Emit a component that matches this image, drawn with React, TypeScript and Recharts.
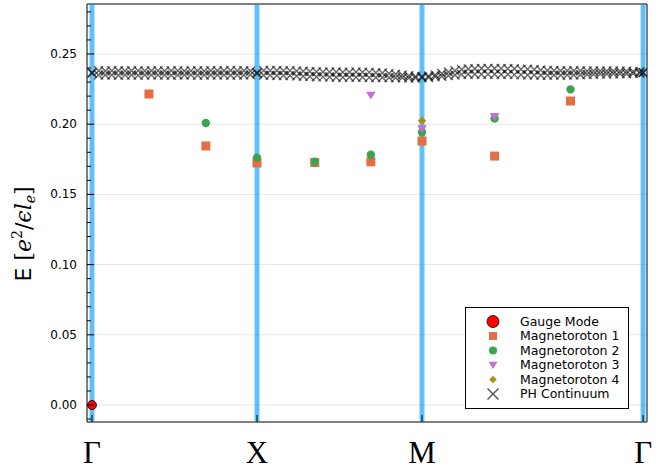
import React from 'react';
import { ScatterChart, Scatter, XAxis, YAxis, CartesianGrid, ReferenceLine, ReferenceArea } from 'recharts';

// high-symmetry path: Γ -> X -> M -> Γ
const kPath = [0, 1, 2, 3.34];
const kLabels = ['Γ', 'X', 'M', 'Γ'];
const eTicks = [-0.01, 0, 0.01, 0.02, 0.03, 0.04, 0.05, 0.06, 0.07, 0.08, 0.09, 0.1, 0.11, 0.12, 0.13, 0.14, 0.15, 0.16, 0.17, 0.18, 0.19, 0.2, 0.21, 0.22, 0.23, 0.24, 0.25, 0.26, 0.27, 0.28];
const eMajor = [0, 0.05, 0.1, 0.15, 0.2, 0.25];

const gaugeK = [0];
const gaugeE = [0];

const mag1K = [0.345, 0.69, 1.0, 1.35, 1.69, 2.0, 2.44, 2.9];
const mag1E = [0.2215, 0.1845, 0.1724, 0.1727, 0.1732, 0.188, 0.1773, 0.2165];

const mag2K = [0.69, 1.0, 1.35, 1.69, 2.0, 2.44, 2.9];
const mag2E = [0.2008, 0.1762, 0.1733, 0.1782, 0.1942, 0.204, 0.2248];

const mag3K = [1.69, 2.0, 2.44];
const mag3E = [0.2206, 0.1966, 0.2054];

const mag4K = [2.0];
const mag4E = [0.2025];

// particle-hole continuum, lower and upper edge along the path
const phK = [
  0, 0.04, 0.08, 0.12, 0.16, 0.2, 0.24, 0.28, 0.32, 0.36, 0.4, 0.44, 0.48, 0.52, 0.56, 0.6, 0.64, 0.68, 0.72, 0.76, 0.8, 0.84, 0.88, 0.92, 0.96,
  1, 1.04, 1.08, 1.12, 1.16, 1.2, 1.24, 1.28, 1.32, 1.36, 1.4, 1.44, 1.48, 1.52, 1.56, 1.6, 1.64, 1.68, 1.72, 1.76, 1.8, 1.84, 1.88, 1.92, 1.96,
  2, 2.04, 2.08, 2.12, 2.16, 2.2, 2.24, 2.28, 2.32, 2.36, 2.4, 2.44, 2.48, 2.52, 2.56, 2.6, 2.64, 2.68, 2.72, 2.76, 2.8, 2.84, 2.88, 2.92, 2.96,
  3, 3.04, 3.08, 3.12, 3.16, 3.2, 3.24, 3.28, 3.32, 3.34,
];
const phLo = [
  0.2362, 0.235, 0.2351, 0.235, 0.2349, 0.2351, 0.235, 0.2349, 0.2351, 0.235, 0.235, 0.2351, 0.2349, 0.235, 0.2351, 0.235, 0.2349, 0.2351, 0.235, 0.2351, 0.235, 0.2349, 0.2351, 0.235, 0.2352,
  0.236, 0.2349, 0.2348, 0.2347, 0.2347, 0.2346, 0.2344, 0.2342, 0.234, 0.2338, 0.2337, 0.2336, 0.2335, 0.2335, 0.2334, 0.2335, 0.2334, 0.2333, 0.2333, 0.2332, 0.2331, 0.233, 0.233, 0.2329, 0.2329,
  0.233, 0.2332, 0.2337, 0.2342, 0.2347, 0.2351, 0.2354, 0.2355, 0.2356, 0.2355, 0.2356, 0.2355, 0.2354, 0.2355, 0.2353, 0.2352, 0.2351, 0.235, 0.2349, 0.2349, 0.235, 0.2349, 0.235, 0.2351, 0.2352,
  0.2354, 0.2356, 0.2357, 0.2358, 0.2359, 0.236, 0.236, 0.2361, 0.2362, 0.2366,
];
const phHi = [
  0.2368, 0.238, 0.2379, 0.2381, 0.238, 0.2379, 0.2381, 0.238, 0.2379, 0.2381, 0.238, 0.2379, 0.2381, 0.238, 0.2379, 0.2381, 0.238, 0.2379, 0.2381, 0.238, 0.2381, 0.2382, 0.238, 0.2381, 0.2379,
  0.2368, 0.2382, 0.2383, 0.2382, 0.2381, 0.238, 0.2379, 0.2377, 0.2375, 0.2373, 0.2372, 0.2371, 0.2371, 0.237, 0.237, 0.2371, 0.237, 0.2369, 0.2367, 0.2364, 0.2361, 0.2356, 0.235, 0.2345, 0.2342,
  0.2339, 0.2343, 0.2351, 0.2361, 0.2371, 0.2381, 0.2389, 0.2393, 0.2395, 0.2396, 0.2397, 0.2396, 0.2397, 0.2395, 0.2394, 0.2392, 0.2391, 0.2389, 0.2386, 0.2383, 0.2382, 0.2381, 0.238, 0.2381, 0.238,
  0.2379, 0.2379, 0.2378, 0.2379, 0.2378, 0.2378, 0.2377, 0.2376, 0.2374, 0.2369,
];

const pts = (ks: number[], es: number[]) => ks.map((k, i) => ({ k, e: es[i] }));
const gaugeData = pts(gaugeK, gaugeE);
const mag1Data = pts(mag1K, mag1E);
const mag2Data = pts(mag2K, mag2E);
const mag3Data = pts(mag3K, mag3E);
const mag4Data = pts(mag4K, mag4E);
const phData = [...pts(phK, phLo), ...pts(phK, phHi)];

const X_DOMAIN: [number, number] = [-0.0303, 3.3636];
const Y_DOMAIN: [number, number] = [-0.0121, 0.2856];

const C_BLUE = '#009af9';
const C_ORANGE = '#e26f46';
const C_GREEN = '#3da44d';
const C_PURPLE = '#c271d2';
const C_GOLD = '#ac8e18';

const GaugeDot = ({ cx, cy, r = 4.5 }: any) => (
  <circle cx={cx} cy={cy} r={r} fill="#ff0000" stroke="#000" strokeWidth={0.8} />
);
const Square = ({ cx, cy, s = 4.5 }: any) => (
  <rect x={cx - s} y={cy - s} width={2 * s} height={2 * s} fill={C_ORANGE} />
);
const Dot = ({ cx, cy, r = 4.2 }: any) => <circle cx={cx} cy={cy} r={r} fill={C_GREEN} />;
const TriDown = ({ cx, cy, s = 4.8 }: any) => (
  <path d={`M${cx - s},${cy - s * 0.75} L${cx + s},${cy - s * 0.75} L${cx},${cy + s * 0.9} Z`} fill={C_PURPLE} />
);
const Diamond = ({ cx, cy, s = 4.2 }: any) => (
  <path d={`M${cx},${cy - s} L${cx + s},${cy} L${cx},${cy + s} L${cx - s},${cy} Z`} fill={C_GOLD} />
);
const Cross = ({ cx, cy, s = 4.5, w = 1.4, o = 0.6 }: any) => (
  <path
    d={`M${cx - s},${cy - s} L${cx + s},${cy + s} M${cx - s},${cy + s} L${cx + s},${cy - s}`}
    stroke="#000"
    strokeOpacity={o}
    strokeWidth={w}
    fill="none"
  />
);

function ETick(props: any) {
  const { x, y, payload } = props;
  const v = payload.value;
  const major = Math.abs(Math.round(v * 100)) % 5 === 0;
  const ax = x + 10;
  return (
    <g>
      <line x1={ax} x2={ax + (major ? 7 : 4)} y1={y} y2={y} stroke="#000" strokeWidth={1} />
      {major && (
        <text x={x} y={y + 4} textAnchor="end" fontFamily="DejaVu Sans" fontSize={12} fill="#000">
          {v.toFixed(2)}
        </text>
      )}
    </g>
  );
}

function KTick(props: any) {
  const { x, y, payload } = props;
  const idx = kPath.indexOf(payload.value);
  return (
    <g>
      <line x1={x} x2={x} y1={y} y2={y - 7} stroke="#000" strokeWidth={1} />
      <text x={x} y={y + 41} textAnchor="middle" fontFamily="Liberation Serif, DejaVu Serif" fontSize={31} fill="#000">
        {kLabels[idx]}
      </text>
    </g>
  );
}

const legendItems = [
  { name: 'Gauge Mode', icon: (cx: number, cy: number) => <GaugeDot cx={cx} cy={cy} r={6} /> },
  { name: 'Magnetoroton 1', icon: (cx: number, cy: number) => <Square cx={cx} cy={cy} s={4} /> },
  { name: 'Magnetoroton 2', icon: (cx: number, cy: number) => <Dot cx={cx} cy={cy} r={4} /> },
  { name: 'Magnetoroton 3', icon: (cx: number, cy: number) => <TriDown cx={cx} cy={cy} s={4.5} /> },
  { name: 'Magnetoroton 4', icon: (cx: number, cy: number) => <Diamond cx={cx} cy={cy} s={3.8} /> },
  { name: 'PH Continuum', icon: (cx: number, cy: number) => <Cross cx={cx} cy={cy} s={5.5} w={1.5} o={0.65} /> },
];

export default function App() {
  return (
    <div style={{ position: 'absolute', left: 0, top: 0, width: 659, height: 473, background: '#fff' }}>
      <ScatterChart width={659} height={473} margin={{ top: 4, right: 12, left: 0, bottom: 0 }}>
        <CartesianGrid
          horizontalValues={eMajor}
          verticalValues={kPath}
          stroke="#000"
          strokeOpacity={0.1}
          strokeWidth={1}
        />
        <XAxis
          type="number"
          dataKey="k"
          domain={X_DOMAIN}
          allowDataOverflow
          ticks={kPath}
          interval={0}
          height={51}
          axisLine={false}
          tickLine={false}
          tickSize={0}
          tickMargin={0}
          tick={<KTick />}
        />
        <YAxis
          type="number"
          dataKey="e"
          domain={Y_DOMAIN}
          allowDataOverflow
          ticks={eTicks}
          interval={0}
          width={87}
          axisLine={false}
          tickLine={false}
          tickSize={0}
          tickMargin={10}
          tick={<ETick />}
        />
        {kPath.map((k, i) => (
          <ReferenceLine key={i} x={k} stroke={C_BLUE} strokeOpacity={0.6} strokeWidth={5} />
        ))}
        <ReferenceArea x1={X_DOMAIN[0]} x2={X_DOMAIN[1]} y1={Y_DOMAIN[0]} y2={Y_DOMAIN[1]} fill="none" stroke="#000" strokeWidth={1} />
        <Scatter name="Gauge Mode" data={gaugeData} shape={<GaugeDot />} isAnimationActive={false} />
        <Scatter name="Magnetoroton 1" data={mag1Data} shape={<Square />} isAnimationActive={false} />
        <Scatter name="Magnetoroton 2" data={mag2Data} shape={<Dot />} isAnimationActive={false} />
        <Scatter name="Magnetoroton 3" data={mag3Data} shape={<TriDown />} isAnimationActive={false} />
        <Scatter name="Magnetoroton 4" data={mag4Data} shape={<Diamond />} isAnimationActive={false} />
        <Scatter name="PH Continuum" data={phData} shape={<Cross />} isAnimationActive={false} />
      </ScatterChart>

      {/* y axis title */}
      <svg width={659} height={473} style={{ position: 'absolute', left: 0, top: 0, pointerEvents: 'none' }}>
        <text transform="rotate(-90, 31, 234)" x={31} y={234} textAnchor="middle" fontSize={22} fill="#000">
          <tspan fontFamily="DejaVu Sans">E </tspan>
          <tspan fontFamily="DejaVu Serif">[</tspan>
          <tspan fontFamily="DejaVu Serif" fontStyle="italic">e</tspan>
          <tspan fontFamily="DejaVu Serif" fontSize={14} dy={-9}>2</tspan>
          <tspan fontFamily="DejaVu Serif" dy={9}>/</tspan>
          <tspan fontFamily="DejaVu Serif" fontStyle="italic">ϵl</tspan>
          <tspan fontFamily="DejaVu Serif" fontStyle="italic" fontSize={14} dy={4}>e</tspan>
          <tspan fontFamily="DejaVu Serif" dy={-4}>]</tspan>
        </text>
      </svg>

      {/* legend */}
      <svg width={165} height={103} style={{ position: 'absolute', left: 465, top: 307 }}>
        <rect x={0.5} y={0.5} width={163} height={101} fill="#fff" stroke="#000" strokeWidth={1} />
        {legendItems.map((it, i) => {
          const cy = 14.5 + i * 14.5;
          return (
            <g key={it.name}>
              {it.icon(28, cy)}
              <text x={55} y={cy + 4.4} fontFamily="DejaVu Sans" fontSize={12.5} fill="#000">
                {it.name}
              </text>
            </g>
          );
        })}
      </svg>
    </div>
  );
}
